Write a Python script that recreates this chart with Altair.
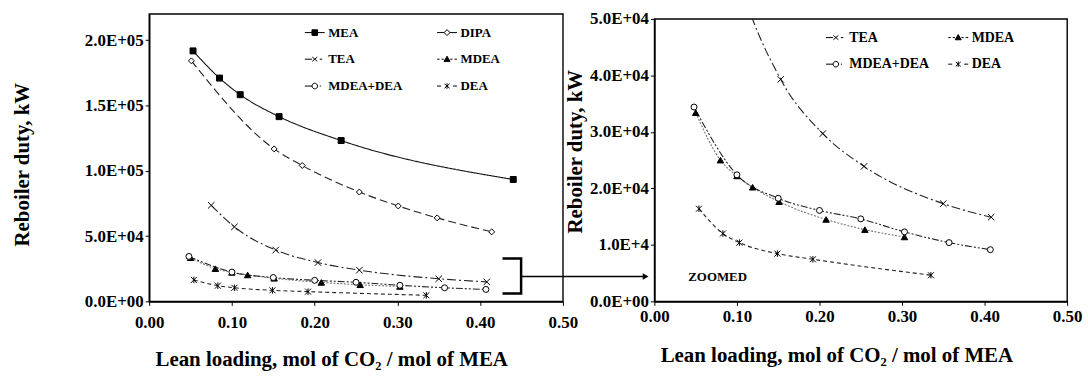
import altair as alt
import pandas as pd

# ---------------- data ----------------
series_order = ["MEA", "DIPA", "TEA", "MDEA", "MDEA+DEA", "DEA"]
zoom_series = ["TEA", "MDEA", "MDEA+DEA", "DEA"]

mea_x = [0.053, 0.085, 0.110, 0.157, 0.232, 0.440]
mea_y = [191700, 170900, 158200, 141400, 123100, 93300]

dipa_x = [0.051, 0.151, 0.185, 0.254, 0.301, 0.348, 0.414]
dipa_y = [184100, 116700, 104000, 83700, 73000, 63900, 53200]

tea_x = [0.075, 0.103, 0.153, 0.204, 0.254, 0.350, 0.408]
tea_y = [73500, 57000, 39300, 29700, 23900, 17300, 14900]

mdea_x = [0.050, 0.080, 0.100, 0.119, 0.151, 0.208, 0.255, 0.303]
mdea_y = [33400, 25000, 22200, 20200, 17650, 14500, 12700, 11400]

mdea_dea_x = [0.048, 0.100, 0.150, 0.200, 0.250, 0.303, 0.357, 0.407]
mdea_dea_y = [34400, 22400, 18250, 16100, 14600, 12300, 10400, 9150]

dea_x = [0.054, 0.083, 0.103, 0.149, 0.192, 0.335]
dea_y = [16400, 12000, 10400, 8450, 7450, 4630]

x_ticks = [0.0, 0.1, 0.2, 0.3, 0.4, 0.5]
x_tick_labels = ["0.00", "0.10", "0.20", "0.30", "0.40", "0.50"]
left_y_ticks = [0, 50000, 100000, 150000, 200000]
left_y_labels = ["0.0E+00", "5.0E+04", "1.0E+05", "1.5E+05", "2.0E+05"]
right_y_ticks = [0, 10000, 20000, 30000, 40000, 50000]
right_y_labels = ["0.0E+00", "1.0E+4", "2.0E+04", "3.0E+04", "4.0E+04", "5.0E+04"]

# annotation: bracket around the low curves and the arrow to the zoomed panel
bracket_x = [0.427, 0.4495, 0.4495, 0.427]
bracket_y = [32800, 32800, 6100, 6100]
arrow_x = [0.4495]
arrow_x2 = [0.600]
arrow_y = [19000]
zoom_label_x = [0.041]
zoom_label_y = [4300]

x_title = "Lean loading, mol of CO\u2082 / mol of MEA"
y_title = "Reboiler duty, kW"

# ---------------- styles ----------------
XMARK = "M-1,-1L1,1M-1,1L1,-1"
STAR = "M-1,-1L1,1M-1,1L1,-1M0,-1.1V1.1"
marker_shape = {"MEA": "square", "DIPA": "diamond", "TEA": XMARK,
                "MDEA": "triangle-up", "MDEA+DEA": "circle", "DEA": STAR}
marker_fill = {"MEA": "black", "DIPA": "white", "TEA": "transparent",
               "MDEA": "black", "MDEA+DEA": "white", "DEA": "transparent"}
marker_size = {"MEA": 36, "DIPA": 36, "TEA": 42, "MDEA": 42, "MDEA+DEA": 36, "DEA": 36}
line_dash = {"MEA": [1, 0], "DIPA": [8, 4], "TEA": [9, 3, 2, 3], "MDEA": [2, 1.5],
             "MDEA+DEA": [7, 2, 2, 2, 2, 2], "DEA": [4, 3]}
line_color = {"MEA": "#111111", "DIPA": "#222222", "TEA": "#222222", "MDEA": "#777777",
              "MDEA+DEA": "#222222", "DEA": "#222222"}
legend_path = {
    "MEA": "M-1,0H1M-0.28,-0.28H0.28V0.28H-0.28Z",
    "DIPA": "M-1,0H-0.3M0.3,0H1M0,-0.3L0.3,0L0,0.3L-0.3,0Z",
    "TEA": "M-1,0H-0.28M-0.25,-0.22L0.25,0.22M-0.25,0.22L0.25,-0.22M0.5,0H0.75",
    "MDEA": "M-1,0H-0.75M-0.55,0H-0.32M0,-0.3L0.3,0.22H-0.3Z M0.32,0H0.55M0.75,0H1",
    "MDEA+DEA": "M-1,0H-0.28M0.28,0A0.28,0.28 0 1,1 -0.28,0A0.28,0.28 0 1,1 0.28,0Z M0.5,0H0.62",
    "DEA": "M-1,0H-0.6M-0.25,-0.22L0.25,0.22M-0.25,0.22L0.25,-0.22M0,-0.28V0.28M0.6,0H1",
}
legend_fill = {"MEA": "black", "DIPA": "white", "TEA": "white", "MDEA": "black",
               "MDEA+DEA": "white", "DEA": "white"}

FONT = "Liberation Serif"

xs = {"MEA": mea_x, "DIPA": dipa_x, "TEA": tea_x, "MDEA": mdea_x,
      "MDEA+DEA": mdea_dea_x, "DEA": dea_x}
ys = {"MEA": mea_y, "DIPA": dipa_y, "TEA": tea_y, "MDEA": mdea_y,
      "MDEA+DEA": mdea_dea_y, "DEA": dea_y}

rows = []
for s in series_order:
    for xv, yv in zip(xs[s], ys[s]):
        rows.append({"series": s, "x": xv, "y": yv, "shapec": marker_shape[s],
                     "fillc": marker_fill[s], "sizec": marker_size[s]})
df = pd.DataFrame(rows)


def label_expr(values, labels):
    v = "[" + ",".join(repr(float(a)) for a in values) + "]"
    l = "[" + ",".join("'" + b + "'" for b in labels) + "]"
    return f"{l}[indexof({v}, datum.value)]"


def panel(names, y_ticks, y_labels, y_max, width, height, legend_xy, legend_font,
          col_pad, x_label_pad, x_title_y, y_title_x, y_title_y, clip):
    data = df[df["series"].isin(names)]
    xenc = alt.X("x:Q", scale=alt.Scale(domain=[0, 0.5], nice=False),
                 axis=alt.Axis(values=x_ticks, labelExpr=label_expr(x_ticks, x_tick_labels),
                               labelFlush=False,
                               title=x_title, labelPadding=x_label_pad, titleX=183,
                               titleY=x_title_y, titleAlign="center", titleBaseline="middle"))
    yenc = alt.Y("y:Q", scale=alt.Scale(domain=[0, y_max], nice=False),
                 axis=alt.Axis(values=y_ticks, labelExpr=label_expr(y_ticks, y_labels),
                               title=y_title, titleX=y_title_x, titleY=y_title_y,
                               titleAlign="center", titleBaseline="middle", titleAngle=270))
    base = alt.Chart(data)
    lines = base.mark_line(interpolate="monotone", strokeWidth=1.1, clip=clip).encode(
        x=xenc, y=yenc,
        strokeDash=alt.StrokeDash("series:N", legend=None,
                                  scale=alt.Scale(domain=series_order,
                                                  range=[line_dash[s] for s in series_order])),
        color=alt.Color("series:N", legend=None,
                        scale=alt.Scale(domain=series_order,
                                        range=[line_color[s] for s in series_order])),
    )
    points = base.mark_point(filled=False, opacity=1, stroke="black", strokeWidth=1,
                             clip=clip).encode(
        x="x:Q", y="y:Q",
        shape=alt.Shape("shapec:N", scale=None),
        fill=alt.Fill("fillc:N", scale=None),
        size=alt.Size("sizec:Q", scale=None),
        detail="series:N",
    )
    leg = alt.Legend(orient="none", legendX=legend_xy[0], legendY=legend_xy[1], columns=2,
                     direction="horizontal",
                     title=None, padding=0, symbolSize=400, symbolStrokeWidth=1,
                     symbolStrokeColor="black", labelFont=FONT, labelFontWeight="bold",
                     labelFontSize=legend_font, labelColor="black", labelOffset=3,
                     rowPadding=9, columnPadding=col_pad, labelLimit=300)
    ghost = base.transform_filter("false").mark_point(
        filled=False, opacity=1, stroke="black", strokeWidth=1).encode(
        x="x:Q", y="y:Q",
        shape=alt.Shape("series:N", legend=leg,
                        scale=alt.Scale(domain=names, range=[legend_path[s] for s in names])),
        fill=alt.Fill("series:N", legend=leg,
                      scale=alt.Scale(domain=names, range=[legend_fill[s] for s in names])),
    )
    return alt.layer(lines, points, ghost).properties(width=width, height=height)


left = panel(series_order, left_y_ticks, left_y_labels, 220000, 416, 289,
             (156, 8), 13, 32, 9, 58, -127, 151, False)

bracket = alt.Chart(pd.DataFrame({"x": bracket_x, "y": bracket_y,
                                  "o": list(range(len(bracket_x)))})).mark_line(
    color="black", strokeWidth=2.5, strokeJoin="miter").encode(x="x:Q", y="y:Q", order="o:Q")
arrow_df = pd.DataFrame({"x": arrow_x, "x2": arrow_x2, "y": arrow_y})
arrow = alt.Chart(arrow_df).mark_rule(color="black", strokeWidth=1.6).encode(
    x="x:Q", x2="x2:Q", y="y:Q")
head = alt.Chart(arrow_df).mark_point(shape="triangle-right", filled=True, color="black",
                                      opacity=1, size=45).encode(x="x2:Q", y="y:Q")
left = alt.layer(left, bracket, arrow, head)

right = panel(zoom_series, right_y_ticks, right_y_labels, 50000, 415, 284,
              (172, 13), 14, 16, 3, 54, -79, 133, True)
zl = alt.Chart(pd.DataFrame({"x": zoom_label_x, "y": zoom_label_y, "t": ["ZOOMED"]})).mark_text(
    align="left", baseline="middle", font=FONT, fontWeight="bold", fontSize=13,
    color="black").encode(x="x:Q", y="y:Q", text="t:N")
right = alt.layer(right, zl)

spacer = alt.Chart(pd.DataFrame({"a": [0]})).mark_point(opacity=0).encode(
    x=alt.X("a:Q", axis=None), y=alt.Y("a:Q", axis=None)).properties(
    width=415, height=5, view=alt.ViewBackground(stroke="transparent"))

chart = alt.hconcat(
    left, alt.vconcat(spacer, right, spacing=0, bounds="flush"),
    spacing=92, bounds="flush"
).resolve_scale(
    shape="independent", fill="independent"
).resolve_legend(
    shape="independent", fill="independent"
).properties(
    padding={"left": 11, "top": 8, "right": 5, "bottom": 0},
    background="white",
).configure_view(stroke="black", strokeWidth=1.4).configure_axis(
    labelFont=FONT, labelFontWeight="bold", labelFontSize=17, labelColor="black",
    titleFont=FONT, titleFontWeight="bold", titleFontSize=21, titleColor="black",
    domainColor="black", domainWidth=1.6, tickColor="black", tickSize=4,
    labelPadding=2, grid=False,
)

chart.save("out.html", embed_options={"renderer": "svg", "actions": False})
